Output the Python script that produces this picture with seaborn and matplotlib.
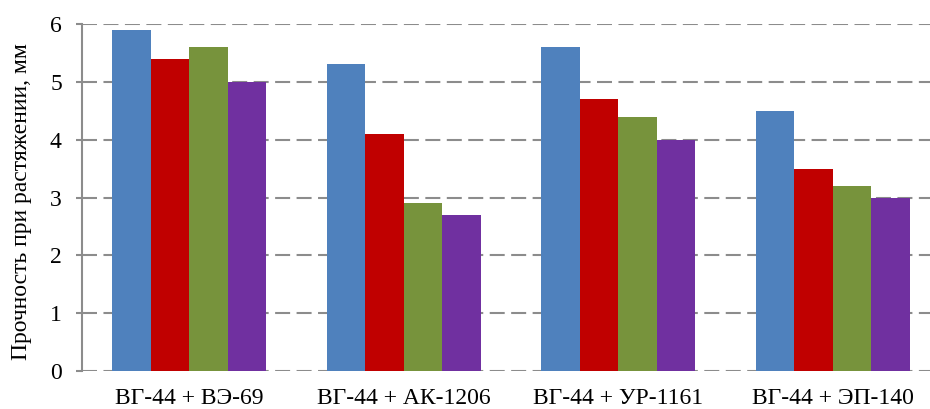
import matplotlib
matplotlib.use("Agg")
import matplotlib.pyplot as plt
import seaborn as sns
import pandas as pd

# Data
categories = ["ВГ-44 + ВЭ-69", "ВГ-44 + АК-1206", "ВГ-44 + УР-1161", "ВГ-44 + ЭП-140"]
series = ["1", "2", "3", "4"]
values_s1 = [5.9, 5.3, 5.6, 4.5]
values_s2 = [5.4, 4.1, 4.7, 3.5]
values_s3 = [5.6, 2.9, 4.4, 3.2]
values_s4 = [5.0, 2.7, 4.0, 3.0]
y_ticks = [0, 1, 2, 3, 4, 5, 6]
y_label = "Прочность при растяжении, мм"

colors = ["#4F81BD", "#C00000", "#77933C", "#7030A0"]

rows = []
for s, vals in zip(series, [values_s1, values_s2, values_s3, values_s4]):
    for c, v in zip(categories, vals):
        rows.append({"category": c, "series": s, "value": v})
df = pd.DataFrame(rows)

sns.set_theme(style="white")
plt.rcParams["font.family"] = ["Liberation Serif", "DejaVu Serif"]

fig = plt.figure(figsize=(9.3, 4.09), dpi=100)
ax = fig.add_axes([82 / 930, 38 / 409, 858 / 930, 347 / 409])

sns.barplot(data=df, x="category", y="value", hue="series", order=categories,
            hue_order=series, palette=colors, width=0.72, saturation=1,
            linewidth=0, legend=False, ax=ax, zorder=3)

ax.set_xlim(-0.5, len(categories) - 0.5)
ax.set_ylim(0, 6)
ax.set_yticks(y_ticks)
ax.set_yticklabels([str(t) for t in y_ticks])

grid_color = "#8C8C8C"
ax.yaxis.grid(True, color=grid_color, linewidth=1.5, linestyle=(0, (7.2, 3.1)), zorder=0)
ax.xaxis.grid(False)
ax.set_axisbelow(True)

for side in ["top", "right", "bottom"]:
    ax.spines[side].set_visible(False)
ax.spines["left"].set_color(grid_color)
ax.spines["left"].set_linewidth(1.5)

ax.tick_params(axis="y", which="major", left=True, length=4.5, width=1.5,
               color=grid_color, labelsize=17, pad=10, labelcolor="black")
ax.tick_params(axis="x", bottom=False, labelsize=17, pad=6, labelcolor="black")

ax.set_xlabel("")
ax.set_ylabel(y_label, fontsize=17, color="black")
ax.yaxis.set_label_coords(-0.058, 0.487)

fig.savefig("out.png", dpi=100)
